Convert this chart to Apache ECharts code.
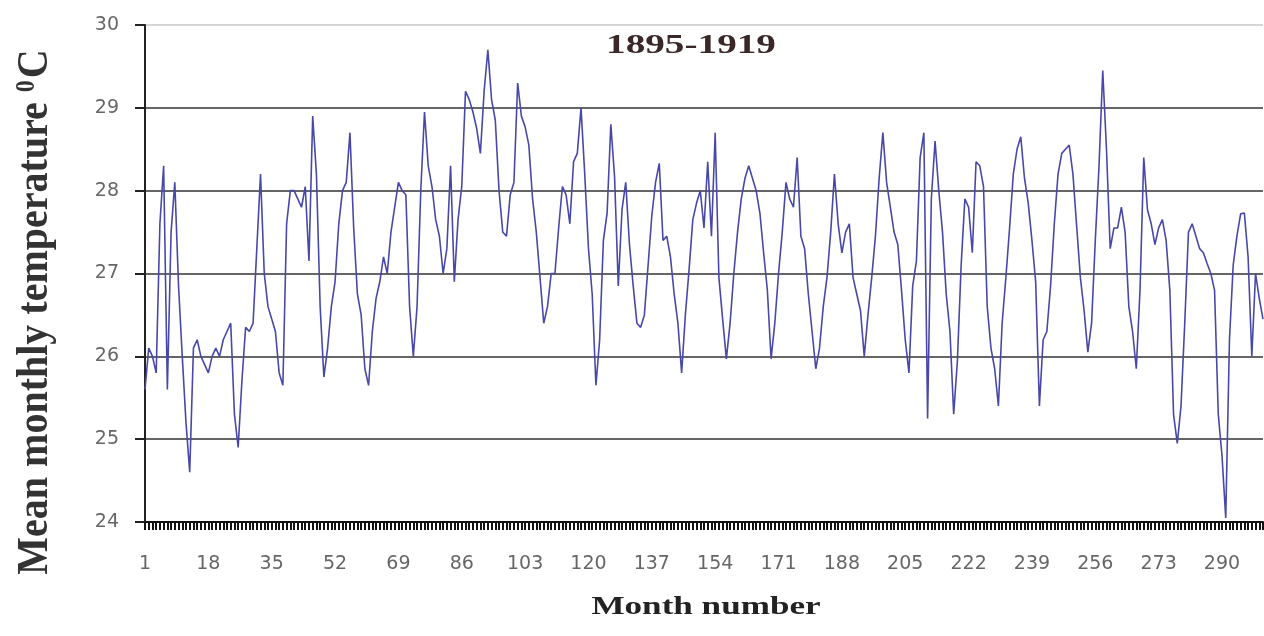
<!DOCTYPE html>
<html>
<head>
    <meta http-equiv="Content-Type" content="text/html; charset=utf-8" />
    <title>Mean monthly temperature 1895-1919</title>
    <script src="https://cdn.jsdelivr.net/npm/echarts@6/dist/echarts.min.js"></script>
</head>
<body style="margin:0;padding:0;background:#ffffff;">
    <div id="main" style="width:1264px;height:636px;"></div>
    <script type="text/javascript">
        /*************************************************************
        * data
        *************************************************************/
        var titleText = '1895-1919';
        var yMin = 24, yMax = 30;

        // mean monthly temperature, months 1..301
        var temps = [
            25.6, 26.1, 26.0, 25.8, 27.6, 28.3, 25.6, 27.5, 28.1, 26.85,
            26.0, 25.2, 24.6, 26.1, 26.2, 26.0, 25.9, 25.8, 26.0, 26.1,
            26.0, 26.2, 26.3, 26.4, 25.3, 24.9, 25.7, 26.35, 26.3, 26.4,
            27.3, 28.2, 27.0, 26.6, 26.45, 26.3, 25.8, 25.65, 27.6, 28.0,
            28.0, 27.9, 27.8, 28.05, 27.15, 28.9, 28.2, 26.6, 25.75, 26.1,
            26.6, 26.9, 27.6, 28.0, 28.1, 28.7, 27.55, 26.75, 26.5, 25.85,
            25.65, 26.3, 26.7, 26.9, 27.2, 27.0, 27.5, 27.8, 28.1, 28.0,
            27.95, 26.6, 26.0, 26.6, 28.0, 28.95, 28.3, 28.05, 27.65, 27.45,
            27.0, 27.3, 28.3, 26.9, 27.65, 28.05, 29.2, 29.1, 28.95, 28.75,
            28.45, 29.2, 29.7, 29.1, 28.85, 28.0, 27.5, 27.45, 27.95, 28.1,
            29.3, 28.9, 28.77, 28.55, 27.9, 27.5, 26.95, 26.4, 26.6, 27.0,
            27.0, 27.55, 28.05, 27.95, 27.6, 28.35, 28.45, 29.0, 28.2, 27.3,
            26.75, 25.65, 26.2, 27.4, 27.73, 28.8, 28.17, 26.85, 27.77, 28.1,
            27.35, 26.85, 26.4, 26.35, 26.5, 27.1, 27.7, 28.1, 28.33, 27.4,
            27.45, 27.2, 26.75, 26.4, 25.8, 26.5, 27.05, 27.65, 27.85, 28.0,
            27.55, 28.35, 27.45, 28.7, 26.95, 26.45, 25.97, 26.4, 27.0, 27.5,
            27.9, 28.15, 28.3, 28.15, 28.0, 27.73, 27.25, 26.8, 25.97, 26.4,
            27.0, 27.5, 28.1, 27.9, 27.8, 28.4, 27.45, 27.3, 26.75, 26.3,
            25.85, 26.1, 26.6, 26.95, 27.5, 28.2, 27.6, 27.25, 27.5, 27.6,
            26.95, 26.75, 26.55, 26.0, 26.5, 26.95, 27.45, 28.15, 28.7, 28.1,
            27.8, 27.5, 27.35, 26.8, 26.2, 25.8, 26.85, 27.15, 28.4, 28.7,
            25.25, 27.9, 28.6, 28.0, 27.5, 26.75, 26.3, 25.3, 25.95, 27.1,
            27.9, 27.8, 27.25, 28.35, 28.3, 28.05, 26.6, 26.1, 25.85, 25.4,
            26.4, 26.95, 27.55, 28.2, 28.5, 28.65, 28.15, 27.85, 27.4, 26.9,
            25.4, 26.2, 26.3, 26.85, 27.6, 28.2, 28.45, 28.5, 28.55, 28.2,
            27.57, 26.95, 26.55, 26.05, 26.4, 27.4, 28.3, 29.45, 28.5, 27.3,
            27.55, 27.55, 27.8, 27.5, 26.6, 26.3, 25.85, 26.8, 28.4, 27.77,
            27.6, 27.35, 27.55, 27.65, 27.4, 26.8, 25.3, 24.95, 25.4, 26.4,
            27.5, 27.6, 27.45, 27.3, 27.25, 27.12, 27.0, 26.8, 25.3, 24.8,
            24.05, 26.2, 27.1, 27.45, 27.72, 27.73, 27.2, 26.0, 27.0, 26.7,
            26.45
        ];

        // month numbers for the category axis
        var months = [];
        for (var i = 0; i < temps.length; i++) {
            months.push(String(i + 1));
        }

        /*************************************************************
        * chart
        *************************************************************/
        var chart = echarts.init(document.getElementById('main'));

        var option = {
            backgroundColor: '#ffffff',
            animation: false,
            grid: {
                left: 145,
                right: 1,
                top: 25,
                bottom: 114
            },
            graphic: [
                {
                    type: 'text',
                    x: 691,
                    y: 46,
                    scaleX: 1.4,
                    style: {
                        text: titleText,
                        fill: '#3a2828',
                        font: 'bold 28px "Liberation Serif", "DejaVu Serif", serif',
                        textAlign: 'center',
                        textVerticalAlign: 'middle'
                    }
                },
                {
                    type: 'text',
                    x: 706,
                    y: 607,
                    scaleX: 1.35,
                    style: {
                        text: 'Month number',
                        fill: '#222222',
                        font: 'bold 26px "Liberation Serif", "DejaVu Serif", serif',
                        textAlign: 'center',
                        textVerticalAlign: 'middle'
                    }
                },
                {
                    type: 'text',
                    x: 36,
                    y: 312,
                    rotation: Math.PI / 2,
                    scaleY: 1.1,
                    style: {
                        text: 'Mean monthly temperature {s|0}C',
                        fill: '#333333',
                        font: 'bold 40px "Liberation Serif", "DejaVu Serif", serif',
                        textAlign: 'center',
                        textVerticalAlign: 'middle',
                        rich: {
                            s: {
                                fontSize: 24,
                                fontWeight: 'bold',
                                fontFamily: 'Liberation Serif',
                                fill: '#333333',
                                padding: [0, 2, 16, 0]
                            }
                        }
                    }
                }
            ],
            xAxis: {
                type: 'category',
                data: months,
                boundaryGap: false,
                axisLine: {
                    lineStyle: { color: '#111111', width: 2 }
                },
                axisTick: {
                    interval: 0,
                    length: 8,
                    lineStyle: { color: '#111111', width: 2 }
                },
                axisLabel: {
                    interval: 16,
                    margin: 33,
                    fontSize: 19,
                    color: '#666666',
                    fontFamily: 'DejaVu Sans'
                },
                splitLine: { show: false }
            },
            yAxis: {
                type: 'value',
                min: yMin,
                max: yMax,
                interval: 1,
                axisLine: {
                    show: true,
                    lineStyle: { color: '#222222', width: 2 }
                },
                axisTick: {
                    show: true,
                    length: 10,
                    lineStyle: { color: '#222222', width: 2 }
                },
                axisLabel: {
                    margin: 26,
                    fontSize: 19,
                    color: '#666666',
                    fontFamily: 'DejaVu Sans'
                },
                splitLine: {
                    show: true,
                    lineStyle: {
                        color: ['#333333', '#333333', '#333333', '#333333', '#333333', '#333333', '#c8c8c8'],
                        width: 1.6
                    }
                }
            },
            series: [
                {
                    name: 'Mean monthly temperature',
                    type: 'line',
                    data: temps,
                    showSymbol: false,
                    lineStyle: { color: '#4848aa', width: 1.6 }
                }
            ]
        };

        chart.setOption(option);
    </script>
</body>
</html>
